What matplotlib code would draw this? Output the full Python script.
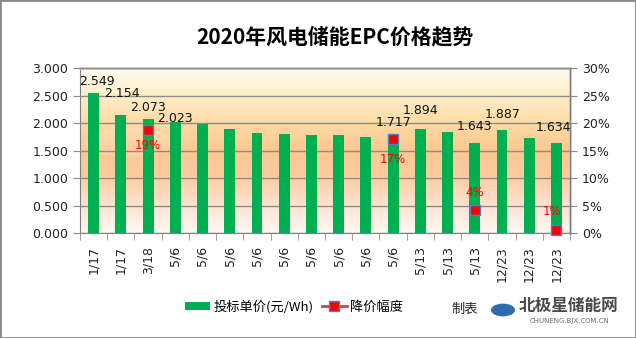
import matplotlib.pyplot as plt
from matplotlib.colors import LinearSegmentedColormap
from matplotlib.lines import Line2D
from matplotlib.patches import Rectangle, Circle, Patch
from matplotlib.ticker import FixedLocator, FuncFormatter, MultipleLocator
import numpy as np

CJK = ['Noto Sans CJK SC', 'DejaVu Sans']
plt.rcParams['font.family'] = ['DejaVu Sans', 'Noto Sans CJK SC']

# bid dates and unit prices (yuan/Wh)
dates = ['1/17', '1/17', '3/18'] + ['5/6'] * 9 + ['5/13'] * 3 + ['12/23'] * 3
prices = [2.549, 2.154, 2.073, 2.023, 1.98, 1.89, 1.82, 1.80, 1.78,
          1.78, 1.75, 1.717, 1.894, 1.84, 1.643, 1.887, 1.73, 1.634]
# bars that carry a value label
labelled = [0, 1, 2, 3, 11, 12, 14, 15, 17]
# price cut points (bar index, drop ratio)
cut_idx = [2, 11, 14, 17]
cut_pct = [0.187, 0.172, 0.043, 0.0055]

# label nudges in pixels
price_off = [(3, 12), (1, 21), (0, 12), (0, 4), (0, 16), (0, 19), (0, 16), (1, 15), (-3, 16)]
pct_off = [(0, -15), (0, -21), (0, 17), (-4, 19)]

GREEN = '#00b050'
GRID = '#8c8c8c'

fig = plt.figure(figsize=(6.36, 3.38), dpi=100)
ax = fig.add_axes([80 / 636, 1 - 233.3 / 338, 490 / 636, 165 / 338])

# warm gradient behind the plot area
grad = LinearSegmentedColormap.from_list('bg', [
    (0.0, '#fffbef'), (0.15, '#fff0cc'), (0.35, '#fdd9a2'), (0.5, '#fbc891'),
    (0.65, '#fccba0'), (0.85, '#fee5d5'), (1.0, '#fff8f5')])
ax.imshow(np.linspace(0, 1, 256)[:, None], cmap=grad, aspect='auto',
          extent=[0, 1, 0, 1], transform=ax.transAxes, zorder=0)
# soft light blob from the site mark
ax.add_patch(Circle((0.10, 0.55), 0.09, transform=ax.transAxes, facecolor='white',
                    alpha=0.15, edgecolor='none', zorder=1))

x = np.arange(len(prices))
ax.bar(x, prices, width=0.4, color=GREEN, zorder=3)
ax.set_xlim(-0.5, len(prices) - 0.5)
ax.set_ylim(0, 3.0)
ax.yaxis.set_major_locator(MultipleLocator(0.5))
ax.yaxis.set_major_formatter(FuncFormatter(lambda v, p: f'{v:.3f}'))
ax.grid(axis='y', color=GRID, lw=1, zorder=2)
ax.set_axisbelow(False)

ax.set_xticks(x)
ax.set_xticklabels(dates, rotation=90, fontsize=9, color='#222222')
ax.xaxis.set_minor_locator(FixedLocator(np.arange(-0.5, len(prices), 1)))
ax.tick_params(axis='x', which='major', length=0, pad=9)
ax.tick_params(axis='x', which='minor', length=5, color=GRID)
ax.tick_params(axis='y', labelsize=9, length=5, color=GRID, labelcolor='#222222')

for s in ['left', 'bottom']:
    ax.spines[s].set_color('#7f7f7f')
for s in ['top', 'right']:
    ax.spines[s].set_color('#c9c9c9')
    ax.spines[s].set_linewidth(2)

for i, (dx, dy) in zip(labelled, price_off):
    ax.annotate(f'{prices[i]:.3f}', (x[i], prices[i]), xytext=(dx, dy),
                textcoords='offset pixels', ha='center', va='center',
                fontsize=9, color='#111111', zorder=6)

# price drop ratio on the right axis
ax2 = ax.twinx()
ax2.set_ylim(0, 0.30)
ax2.yaxis.set_major_locator(MultipleLocator(0.05))
ax2.yaxis.set_major_formatter(FuncFormatter(lambda v, p: f'{v:.0%}'))
ax2.tick_params(axis='y', labelsize=9, length=5, color=GRID, labelcolor='#222222')
for s in ax2.spines.values():
    s.set_visible(False)
ax2.spines['right'].set_visible(True)
ax2.spines['right'].set_color('#7f7f7f')

ax2.plot(x[cut_idx], cut_pct, ls='none', marker='s', ms=7, mfc='#ff0000',
         mec='#4f81bd', mew=1, zorder=5, clip_on=False)
for i, v, (dx, dy) in zip(cut_idx, cut_pct, pct_off):
    ax2.annotate(f'{v:.0%}', (x[i], v), xytext=(dx, dy), textcoords='offset pixels',
                 ha='center', va='center', fontsize=8.5, color='#ff0000', zorder=6)

fig.text(335 / 636, 1 - 37 / 338, '2020年风电储能EPC价格趋势', ha='center', va='center',
         fontsize=15, fontweight='bold', family=CJK, color='#000000')

handles = [Patch(facecolor=GREEN, edgecolor='none'),
           Line2D([], [], color='#be4b48', lw=2, marker='s', ms=7,
                  mfc='#ff0000', mec='#4f81bd')]
fig.legend(handles, ['投标单价(元/Wh)', '降价幅度'], loc='center left',
           bbox_to_anchor=(180 / 636, 1 - 307 / 338), ncol=2, frameon=False,
           prop={'family': CJK, 'size': 9.5}, handlelength=1.9, handleheight=0.55,
           handletextpad=0.25, columnspacing=0.6, borderaxespad=0)

fig.text(465 / 636, 1 - 309 / 338, '制表', ha='center', va='center',
         fontsize=9.5, family=CJK, color='#222222')
# site logo
fig.patches.append(Circle((503 / 636, 1 - 310 / 338), 12 / 636, transform=fig.transFigure,
                          facecolor='#2b6cb0', edgecolor='none'))
fig.text(569 / 636, 1 - 306 / 338, '北极星储能网', ha='center', va='center',
         fontsize=12, fontweight='bold', family=CJK, color='#4a4a4a')
fig.text(569 / 636, 1 - 321 / 338, 'CHUNENG.BJX.COM.CN', ha='center', va='center',
         fontsize=5, color='#6b6b6b')

fig.patches.append(Rectangle((0, 0), 1, 1, transform=fig.transFigure, fill=False,
                             edgecolor='#8a8a8a', lw=2))

fig.savefig('out.png', dpi=100)
